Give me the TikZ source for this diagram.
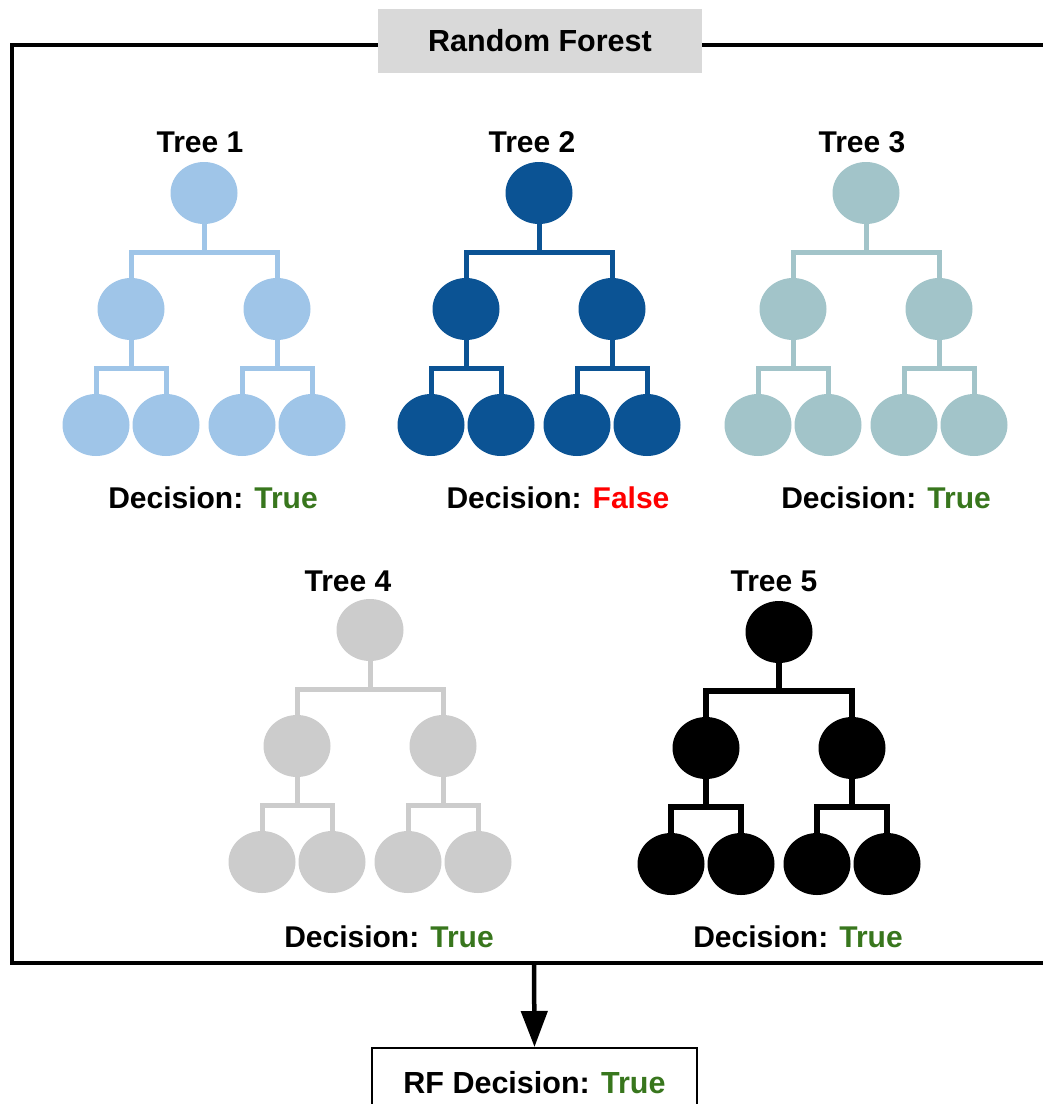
\documentclass[tikz,border=0pt]{standalone}
\usepackage{fontspec}
\setmainfont{Liberation Sans}
\usetikzlibrary{shapes.geometric,arrows.meta}
\definecolor{tA}{HTML}{9FC5E8}
\definecolor{tB}{HTML}{0B5394}
\definecolor{tC}{HTML}{A2C4C9}
\definecolor{tD}{HTML}{CCCCCC}
\definecolor{tE}{HTML}{000000}
\definecolor{okgreen}{HTML}{38761D}
\definecolor{badred}{HTML}{FF0000}
\definecolor{titlegray}{HTML}{D9D9D9}
\tikzset{
  leaf/.style={ellipse, minimum width=67pt, minimum height=62pt, inner sep=0pt, draw=none},
  lbl/.style={anchor=base, inner sep=0pt, font=\fontsize{30}{36}\selectfont\bfseries},
}
\newcommand\mytree[5]{%
\begin{scope}[shift={(#2,#3)}]
\node[leaf, fill=#4] (#1r) at (0,0) {};
\node[leaf, fill=#4] (#1a) at (-73,116) {};
\node[leaf, fill=#4] (#1b) at (73,116) {};
\node[leaf, fill=#4] (#1c) at (-108,232) {};
\node[leaf, fill=#4] (#1d) at (-38,232) {};
\node[leaf, fill=#4] (#1e) at (38,232) {};
\node[leaf, fill=#4] (#1f) at (108,232) {};
\begin{scope}[line width=#5, draw=#4]
\draw (#1r.south) -- ++(0,28) -| (#1a.north);
\draw (#1r.south) -- ++(0,28) -| (#1b.north);
\draw (#1a.south) -- ++(0,28) -| (#1c.north);
\draw (#1a.south) -- ++(0,28) -| (#1d.north);
\draw (#1b.south) -- ++(0,28) -| (#1e.north);
\draw (#1b.south) -- ++(0,28) -| (#1f.north);
\end{scope}
\end{scope}}
\begin{document}
\begin{tikzpicture}[x=1pt, y=-1pt]
\useasboundingbox (0,0) rectangle (1043,1104);
% frame
\draw[line width=3.5pt] (1060,45) -- (12,45) -- (12,963) -- (1060,963);
\coordinate (fb) at (534,963);
% title
\node[fill=titlegray, minimum width=324pt, minimum height=64pt, inner sep=0pt,
      font=\fontsize{30.5}{36}\selectfont\bfseries] (title) at (540,41) {Random Forest};
% trees
\mytree{p}{204}{193}{tA}{5pt}
\mytree{q}{539}{193}{tB}{5pt}
\mytree{s}{866}{193}{tC}{5pt}
\mytree{u}{370}{630}{tD}{5pt}
\mytree{v}{779}{632}{tE}{6pt}
% tree labels
\node[lbl] (l1) at (200,152) {Tree 1};
\node[lbl] (l2) at (532,152) {Tree 2};
\node[lbl] (l3) at (862,152) {Tree 3};
\node[lbl] (l4) at (348,591) {Tree 4};
\node[lbl] (l5) at (774,591) {Tree 5};
% decisions
\node[lbl] (d1) at (213,508) {Decision: \textcolor{okgreen}{True}};
\node[lbl] (d2) at (558,508) {Decision: \textcolor{badred}{False}};
\node[lbl] (d3) at (886,508) {Decision: \textcolor{okgreen}{True}};
\node[lbl] (d4) at (389,947) {Decision: \textcolor{okgreen}{True}};
\node[lbl] (d5) at (798,947) {Decision: \textcolor{okgreen}{True}};
% final
\node[draw, line width=1.5pt, minimum width=325pt, text height=22pt, text depth=0pt,
      inner ysep=24pt, inner xsep=0pt, anchor=north,
      font=\fontsize{30.5}{36}\selectfont\bfseries] (rf) at (534.5,1047)
      {RF Decision: \textcolor{okgreen}{True}};
\draw[line width=4.5pt, -{Triangle[length=36pt,width=26pt]}] (fb) -- (rf.north);
\end{tikzpicture}
\end{document}
